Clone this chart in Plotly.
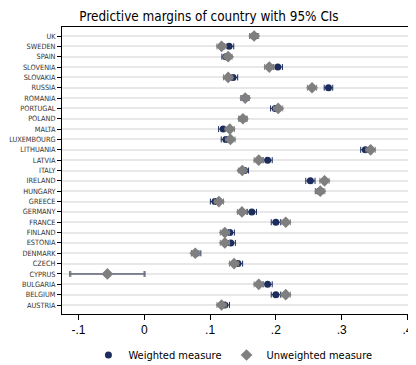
import plotly.graph_objects as go

countries = ["UK", "SWEDEN", "SPAIN", "SLOVENIA", "SLOVAKIA", "RUSSIA", "ROMANIA",
             "PORTUGAL", "POLAND", "MALTA", "LUXEMBOURG", "LITHUANIA", "LATVIA", "ITALY",
             "IRELAND", "HUNGARY", "GREECE", "GERMANY", "FRANCE", "FINLAND", "ESTONIA",
             "DENMARK", "CZECH", "CYPRUS", "BULGARIA", "BELGIUM", "AUSTRIA"]

weighted = [0.166, 0.129, 0.124, 0.203, 0.135, 0.280, 0.153,
            0.199, 0.150, 0.120, 0.124, 0.336, 0.1875, 0.1525,
            0.2525, 0.266, 0.1075, 0.1635, 0.200, 0.130, 0.1315,
            0.079, 0.1425, -0.056, 0.1875, 0.200, 0.1225]
weighted_ci = [0.006, 0.007, 0.006, 0.007, 0.007, 0.0065, 0.006,
               0.007, 0.006, 0.007, 0.007, 0.007, 0.007, 0.006,
               0.007, 0.006, 0.007, 0.007, 0.007, 0.007, 0.007,
               0.007, 0.007, 0.057, 0.007, 0.007, 0.007]

unweighted = [0.167, 0.1175, 0.1275, 0.190, 0.1275, 0.255, 0.1535,
              0.2035, 0.150, 0.130, 0.131, 0.344, 0.174, 0.149,
              0.274, 0.2675, 0.1135, 0.1485, 0.215, 0.1225, 0.1225,
              0.0775, 0.1365, -0.056, 0.174, 0.215, 0.1175]
unweighted_ci = [0.007, 0.007, 0.006, 0.007, 0.007, 0.007, 0.006,
                 0.007, 0.006, 0.007, 0.007, 0.007, 0.007, 0.006,
                 0.007, 0.007, 0.007, 0.007, 0.007, 0.007, 0.007,
                 0.006, 0.007, 0.0555, 0.007, 0.007, 0.007]

x_ticks = [-0.1, 0, 0.1, 0.2, 0.3, 0.4]
x_tick_labels = ["-.1", "0", ".1", ".2", ".3", ".4"]

NAVY = "#1c2d5c"
GRAY = "#7f7f7f"
NARROW = "DejaVu Sans Condensed, Liberation Sans Narrow, Liberation Sans, sans-serif"
ARIAL = "Liberation Sans, Arial, sans-serif"

# the page body adds an 8px offset, so the figure is sized to the visible area
W, H = 408, 357

fig = go.Figure()
fig.add_trace(go.Scatter(
    x=weighted, y=countries, mode="markers", name="Weighted measure",
    marker=dict(symbol="circle", size=7, color=NAVY),
    error_x=dict(type="data", array=weighted_ci, color=NAVY, thickness=1, width=3),
))
fig.add_trace(go.Scatter(
    x=unweighted, y=countries, mode="markers", name="Unweighted measure",
    marker=dict(symbol="diamond", size=9, color=GRAY),
    error_x=dict(type="data", array=unweighted_ci, color=GRAY, thickness=1, width=3),
))

n = len(countries)
top, bottom = 19, 306
fig.update_layout(
    width=W, height=H,
    margin=dict(l=54, r=0, t=top, b=H - bottom, autoexpand=False),
    paper_bgcolor="white", plot_bgcolor="white",
    title=dict(text="Predictive margins of country with 95% CIs",
               x=(209 - 8) / W, xanchor="center", y=1 - 8 / H, yanchor="middle",
               font=dict(family=NARROW, size=13.4, color="black")),
    showlegend=True,
    legend=dict(orientation="h", x=(205 - 8) / W, xanchor="center",
                y=-(347 - bottom) / (bottom - top), yanchor="middle",
                font=dict(family=NARROW, size=11, color="black"),
                itemwidth=30, tracegroupgap=0),
    xaxis=dict(range=[-0.125, 0.413], tickvals=x_ticks, ticktext=x_tick_labels,
               showgrid=False, zeroline=False, showline=True, linecolor="black",
               linewidth=1, mirror=True, ticks="outside", ticklen=5, tickcolor="black",
               ticklabeloverflow="allow",
               tickfont=dict(family=ARIAL, size=12, color="black")),
    yaxis=dict(categoryorder="array", categoryarray=countries[::-1],
               range=[-0.87, n - 1 + 0.87], dtick=1, tickmode="linear",
               showgrid=True, gridcolor="#e8e8e8", gridwidth=1.5,
               zeroline=False, showline=True, linecolor="black", linewidth=1,
               ticks="outside", ticklen=4, tickcolor="black",
               ticklabeloverflow="allow",
               tickfont=dict(family=NARROW, size=7.3, color="#333333")),
)

fig.write_html("out.html")
